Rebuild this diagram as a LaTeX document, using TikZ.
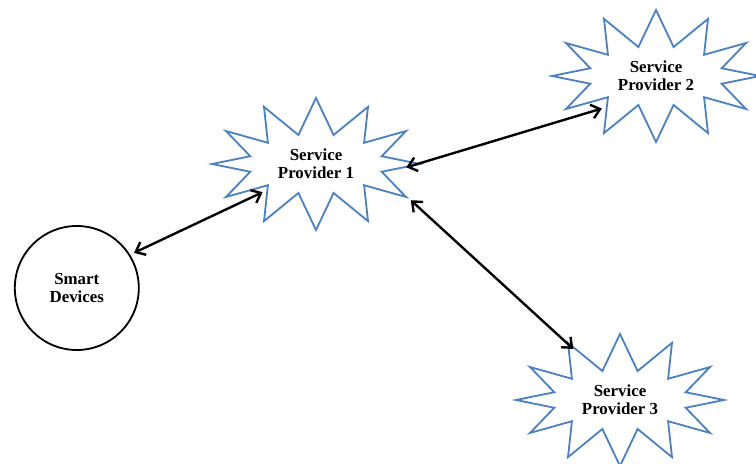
\documentclass[tikz,border=0pt]{standalone}
\usepackage{fontspec}
\setmainfont{Liberation Serif}
\usetikzlibrary{shapes.symbols, arrows.meta}

\begin{document}
\begin{tikzpicture}[
    providerBurst/.style={starburst, draw=burstColour, line width=1.3pt, fill=white,
        starburst points=12, starburst point height=0.9cm, random starburst=0,
        minimum width=5.2cm, minimum height=3.3cm, inner sep=0pt,
        align=center, font=\bfseries\fontsize{12}{13}\selectfont},
    deviceCircle/.style={circle, draw=black, line width=1.3pt, minimum size=3.1cm,
        align=center, font=\bfseries\fontsize{12}{13}\selectfont},
    linkArrow/.style={{Straight Barb[length=6pt,width=10pt]}-{Straight Barb[length=6pt,width=10pt]},
        line width=1.7pt, shorten <=#1, shorten >=#1}
]
    % Define colours
    \definecolor{burstColour}{HTML}{4F81BD}

    % Fix the page size
    \useasboundingbox (0,0) rectangle (18.9,11.6);

    % Draw the smart devices
    \node[deviceCircle] (dev) at (1.92,4.4) {Smart\\Devices};

    % Draw the service providers
    \node[providerBurst] (sp1) at (7.9,7.5) {Service\\Provider 1};
    \node[providerBurst] (sp2) at (16.4,9.7) {Service\\Provider 2};
    \node[providerBurst] (sp3) at (15.5,1.6) {Service\\Provider 3};

    % Draw the links
    \draw[linkArrow=3pt] (dev.32) -- (sp1.208);
    \draw[linkArrow=3pt] (sp1.-3) -- (sp2.212);
    \draw[linkArrow=3pt, shorten >=-6pt] (sp1.-20) -- (sp3.133);

\end{tikzpicture}
\end{document}
